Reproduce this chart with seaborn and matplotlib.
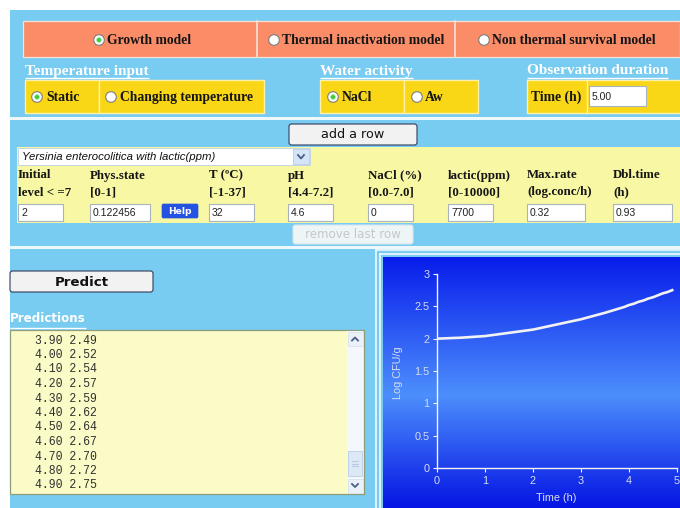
import numpy as np
import pandas as pd
import matplotlib
matplotlib.use("Agg")
import matplotlib.pyplot as plt
from matplotlib.patches import Rectangle, Circle, FancyBboxPatch
import seaborn as sns

# ---------------- data ----------------
model_options = ["Growth model", "Thermal inactivation model", "Non thermal survival model"]
temp_options = ["Static", "Changing temperature"]
water_options = ["NaCl", "Aw"]
organism = "Yersinia enterocolitica with lactic(ppm)"
param_headers = ["Initial", "Phys.state", "T (ºC)", "pH", "NaCl (%)", "lactic(ppm)", "Max.rate", "Dbl.time"]
param_ranges = ["level < =7", "[0-1]", "[-1-37]", "[4.4-7.2]", "[0.0-7.0]", "[0-10000]", "(log.conc/h)", "(h)"]
param_values = ["2", "0.122456", "32", "4.6", "0", "7700", "0.32", "0.93"]
obs_time = "5.00"
pred_times = [3.9, 4.0, 4.1, 4.2, 4.3, 4.4, 4.5, 4.6, 4.7, 4.8, 4.9]
pred_logs = [2.49, 2.52, 2.54, 2.57, 2.59, 2.62, 2.64, 2.67, 2.70, 2.72, 2.75]
early_times = [0.0, 0.5, 1.0, 1.5, 2.0, 2.5, 3.0, 3.5]
early_logs = [2.00, 2.015, 2.04, 2.09, 2.14, 2.22, 2.30, 2.40]
x_ticks = [0, 1, 2, 3, 4, 5]
y_ticks = [0, 0.5, 1, 1.5, 2, 2.5, 3]
y_tick_labels = ["0", "0.5", "1", "1.5", "2", "2.5", "3"]

curve = pd.DataFrame({"Time (h)": early_times + pred_times,
                      "Log CFU/g": early_logs + pred_logs})

# ---------------- style ----------------
SERIF = ["Liberation Serif", "DejaVu Serif"]
SANS = ["Liberation Sans", "DejaVu Sans"]
VERD = ["DejaVu Sans"]
MONO = ["Liberation Mono", "DejaVu Sans Mono"]
PAGE = "#78CBF1"
ORANGE = "#FB8C68"
GOLD = "#F9D616"
PALE = "#F8F8A4"
BOXY = "#FBFBC8"

fig = plt.figure(figsize=(6.8, 5.08), dpi=100)
fig.patch.set_facecolor("white")
ui = fig.add_axes([0, 0, 1, 1])
ui.set_xlim(0, 680)
ui.set_ylim(508, 0)
ui.axis("off")
R = fig.canvas.get_renderer()


def rect(x0, y0, x1, y1, fc, ec="none", lw=0.0, z=1):
    ui.add_patch(Rectangle((x0, y0), x1 - x0, y1 - y0, facecolor=fc,
                           edgecolor=ec, linewidth=lw, zorder=z))


def txt(x, y, s, size=10, fam=SERIF, weight="bold", color="#151515", ha="left", z=8, **kw):
    return ui.text(x, y, s, fontsize=size, family=fam, fontweight=weight,
                   color=color, ha=ha, va="center", zorder=z, **kw)


def underlined(x, y, s, uy, size, fam, color="white"):
    t = txt(x, y, s, size=size, fam=fam, color=color)
    w = t.get_window_extent(renderer=R).width
    ui.plot([x, x + w], [uy, uy], color=color, lw=1.0, zorder=8, solid_capstyle="butt")


def radio(cx, cy, sel):
    ui.add_patch(Circle((cx, cy), 5.3, facecolor="white", edgecolor="#7C7C7C", lw=0.8, zorder=6))
    if sel:
        ui.add_patch(Circle((cx, cy), 2.4, facecolor="#3ACB3A", edgecolor="#A8E6A8", lw=0.6, zorder=7))


def inbox(x0, y0, x1, y1, val):
    rect(x0, y0, x1, y1, "white", "#A9B3BC", 0.8, z=5)
    txt(x0 + 3, (y0 + y1) / 2 + 0.5, val, size=7.5, fam=SANS, weight="normal", color="#202020")


def button(x0, y0, x1, y1, label, size, color="#111111", weight="normal", ec="#2F3E5E", fc="#F2F2F2"):
    ui.add_patch(FancyBboxPatch((x0, y0), x1 - x0, y1 - y0, boxstyle="round,pad=0,rounding_size=2.5",
                                facecolor=fc, edgecolor=ec, lw=0.8, zorder=5))
    txt((x0 + x1) / 2, (y0 + y1) / 2 + 0.5, label, size=size, fam=VERD, weight=weight,
        color=color, ha="center")


# page background
rect(10, 10, 680, 508, PAGE, z=0)

# model row (orange)
rect(23, 21, 680, 57, ORANGE, "#F6E2D6", 0.9, z=1)
for xd in (257, 455):
    ui.plot([xd, xd], [21, 57], color="#F6E2D6", lw=1.2, zorder=2)
model_radio_x = [99, 274, 484]
for i, (lab, cx) in enumerate(zip(model_options, model_radio_x)):
    radio(cx, 40, i == 0)
    txt(cx + 8, 40.5, lab, size=9.8)

# section titles
underlined(25, 71, "Temperature input", 77.5, 11, SERIF)
underlined(320, 71, "Water activity", 77.5, 11, SERIF)
underlined(527, 71, "Observation duration", 77.5, 11, SERIF)

# yellow option boxes
YB = "#FFF1A8"
rect(25, 80, 99, 113, GOLD, YB, 1.0)
rect(99, 80, 264, 113, GOLD, YB, 1.0)
radio(37, 97, True)
txt(46, 97.5, temp_options[0], size=9.8)
radio(111, 97, False)
txt(120, 97.5, temp_options[1], size=9.8)

rect(320, 80, 404, 113, GOLD, YB, 1.0)
rect(404, 80, 478, 113, GOLD, YB, 1.0)
radio(333, 97, True)
txt(342, 97.5, water_options[0], size=9.8)
radio(417, 97, False)
txt(425, 97.5, water_options[1], size=9.8)

rect(527, 80, 684, 113, GOLD, YB, 1.0)
ui.plot([587, 587], [80, 113], color=YB, lw=1.0, zorder=2)
txt(531, 97.5, "Time (h)", size=9.8)
inbox(589, 86, 646, 106, obs_time)

# separator
rect(10, 117, 680, 120, "#EEF7FA", z=2)

# parameter section
button(289, 124, 417, 145, "add a row", 9.2)
rect(17, 147, 680, 223, PALE, z=1)
rect(18, 148, 310, 165, "white", "#C9D3DC", 0.7, z=4)
rect(293, 149, 309, 164, "#D5E5F8", "#B9CDE6", 0.6, z=5)
ui.plot([298, 301, 304], [155, 158.5, 155], color="#4A5F88", lw=1.3, zorder=6)
txt(22, 156.5, organism, size=8.2, fam=SANS, weight="normal", color="#101010", style="italic")

col_x = [18, 90, 209, 288, 368, 448, 527, 613]
box_w = [45, 60, 45, 45, 45, 45, 58, 59]
for x, h, r, v, w in zip(col_x, param_headers, param_ranges, param_values, box_w):
    txt(x, 175.5, h, size=9.3)
    txt(x, 192.5, r, size=9.3)
    inbox(x, 204, x + w, 221, v)
ui.add_patch(FancyBboxPatch((162, 204), 36, 14, boxstyle="round,pad=0,rounding_size=1.5",
                            facecolor="#2453E2", edgecolor="#2453E2", lw=0.5, zorder=5))
txt(180, 211, "Help", size=6.6, fam=VERD, weight="bold", color="white", ha="center")

button(293, 225, 413, 244, "remove last row", 8.6, color="#C3C8CC", ec="#D9E6EC", fc="#EEF5F7")

# separator
rect(10, 246, 680, 249, "#EEF7FA", z=2)

# predictions panel
button(10, 271, 153, 292, "Predict", 9.6, weight="bold")
underlined(10, 318.5, "Predictions", 327.5, 8.6, VERD)
rect(10, 330, 364, 494, BOXY, "#8E9C7A", 0.9, z=2)
for i, (t, v) in enumerate(zip(pred_times, pred_logs)):
    txt(35, 340.5 + 14.5 * i, f"{t:.2f} {v:.2f}", size=8.3, fam=MONO, weight="normal", color="#303030")
# scrollbar
rect(347, 331, 363, 493, "#F4F7FB", z=3)
rect(347.5, 331.5, 362.5, 346, "#EAF1F9", "#D3DFEE", 0.5, z=4)
rect(347.5, 478.5, 362.5, 493, "#EAF1F9", "#D3DFEE", 0.5, z=4)
ui.plot([352, 355, 358], [340.5, 337.5, 340.5], color="#4A5F88", lw=1.3, zorder=5)
ui.plot([352, 355, 358], [484, 487, 484], color="#4A5F88", lw=1.3, zorder=5)
rect(348, 451, 362, 476, "#DCE8F6", "#BBCDE3", 0.6, z=4)
for gy in (461, 463.5, 466):
    ui.plot([352, 358], [gy, gy], color="#B0C4DE", lw=0.6, zorder=5)

# chart frame
ui.plot([376, 376], [250, 508], color="#F0F8FB", lw=1.2, zorder=2)
ui.plot([380, 380], [254, 508], color="#F0F8FB", lw=1.2, zorder=2)
ui.plot([376, 680], [250, 250], color="#F0F8FB", lw=1.2, zorder=2)
ui.plot([380, 680], [254, 254], color="#F0F8FB", lw=1.2, zorder=2)

# chart gradient background
stops = np.array([0.0, 0.55, 1.0])
cols = np.array([[0.03, 0.11, 0.92], [0.30, 0.56, 0.99], [0.02, 0.08, 0.89]])
n = 256
pos = np.linspace(0, 1, n)
grad = np.stack([np.interp(pos, stops, cols[:, k]) for k in range(3)], axis=-1)[:, None, :]
ui.imshow(grad, extent=(383, 680, 508, 257), aspect="auto", origin="upper", zorder=3,
          interpolation="bilinear")
ui.set_xlim(0, 680)
ui.set_ylim(508, 0)

# chart
ax = fig.add_axes([437 / 680, (508 - 468) / 508, 240 / 680, 194 / 508])
ax.patch.set_alpha(0)
sns.lineplot(data=curve, x="Time (h)", y="Log CFU/g", ax=ax, color="#F2F2F2", linewidth=1.9)
ax.set_xlim(0, 5)
ax.set_ylim(0, 3)
ax.set_xticks(x_ticks)
ax.set_yticks(y_ticks)
ax.set_yticklabels(y_tick_labels)
LBL = "#D6DCF2"
for s in ("top", "right"):
    ax.spines[s].set_visible(False)
for s in ("left", "bottom"):
    ax.spines[s].set_color("#F4F4F4")
    ax.spines[s].set_linewidth(1.0)
ax.tick_params(colors="#F4F4F4", labelcolor=LBL, labelsize=7.8, length=3, width=0.8,
               direction="out", pad=2.5)
for lab in ax.get_xticklabels() + ax.get_yticklabels():
    lab.set_family(SANS)
ax.set_xlabel("Time (h)", color=LBL, fontsize=7.8, family=SANS)
ax.set_ylabel("Log CFU/g", color=LBL, fontsize=7.8, family=SANS)
ax.xaxis.set_label_coords(0.496, -0.128)
ax.yaxis.set_label_coords(-0.143, 0.49)

fig.savefig("out.png", dpi=100, facecolor="white")
